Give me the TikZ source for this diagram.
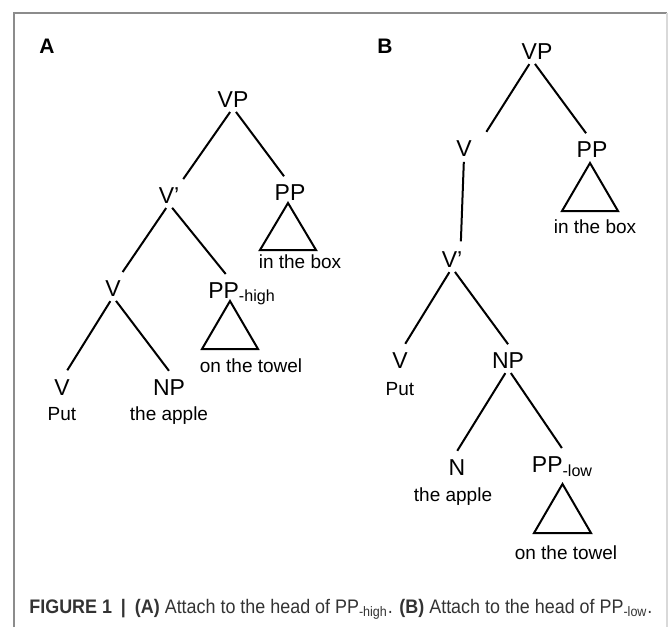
\documentclass[tikz,border=0pt]{standalone}
\usepackage{fontspec}
\setmainfont{Liberation Sans}
\usepackage{graphicx}
\usepackage{tikz}
\usetikzlibrary{positioning, calc}

\begin{document}
\begin{tikzpicture}[x=0.5pt, y=-0.5pt,
    cat/.style={font=\fontsize{11.5}{13}\selectfont, inner sep=0pt, anchor=base},
    wrd/.style={font=\fontsize{9.5}{11}\selectfont, inner sep=0pt, anchor=base},
    panel/.style={font=\bfseries\fontsize{10.5}{12}\selectfont, inner sep=0pt},
    br/.style={line width=1pt, shorten <=2.5pt, shorten >=5pt},
    tri/.style={line width=1pt, line join=miter}]

    \useasboundingbox (0,0) rectangle (668,627);

    % frame
    \draw[black!45, line width=0.8pt] (14,627) -- (14,13) -- (667,13);
    \draw[black!15, line width=0.8pt] (667,13) -- (667,627);

    \node[panel] (labA) at (47,46) {A};
    \node[panel] (labB) at (385,46) {B};

    % tree A (high attachment)
    \node[cat] (vpA)   at (233,107.5) {VP};
    \node[cat] (vbarA) at (169,203.5) {V'};
    \node[cat] (ppA)   at (290,200.5) {PP};
    \node[cat] (vA)    at (113,296.5) {V};
    \node[cat] (pphA)  at (242,298) {PP\textsubscript{-high}};
    \node[cat] (vlowA) at (62,395) {V};
    \node[cat] (npA)   at (169,395) {NP};
    \node[wrd] (boxA)   at (300,268) {in the box};
    \node[wrd] (towelA) at (251,372) {on the towel};
    \node[wrd] (putA)   at (62,420) {Put};
    \node[wrd] (appleA) at (169,420) {the apple};

    \draw[br] (vpA.south) -- ($(vbarA.north)+(8.5,0)$);
    \draw[br] (vpA.south) -- (ppA.north);
    \draw[br] (vbarA.south) -- ($(vA.north)+(4,0)$);
    \draw[br] (vbarA.south) -- ($(pphA.north)+(-10,0)$);
    \draw[br] (vA.south) -- (vlowA.north);
    \draw[br] (vA.south) -- ($(npA.north)+(6,0)$);
    \draw[tri] ($(ppA.base)+(-2,2.5)$) -- ++(28,47) -- ++(-56,0) -- cycle;
    \draw[tri] ($(pphA.base)+(-12,3)$) -- ++(28,48) -- ++(-56,0) -- cycle;

    % tree B (low attachment)
    \node[cat] (vpB)   at (537,59.5) {VP};
    \node[cat] (vB)    at (464,156.5) {V};
    \node[cat] (ppB)   at (592,157.5) {PP};
    \node[cat] (vbarB) at (452,267.5) {V'};
    \node[cat] (vlowB) at (400,368.5) {V};
    \node[cat] (npB)   at (508,368.5) {NP};
    \node[cat] (nB)    at (457,475.5) {N};
    \node[cat] (pplB)  at (562.5,472.5) {PP\textsubscript{-low}};
    \node[wrd] (boxB)   at (595,233) {in the box};
    \node[wrd] (putB)   at (400,395) {Put};
    \node[wrd] (appleB) at (453,501) {the apple};
    \node[wrd] (towelB) at (566,559) {on the towel};

    \draw[br] ($(vpB.south)+(-5,0)$) -- ($(vB.north)+(17,0)$);
    \draw[br] ($(vpB.south)+(-5,0)$) -- (ppB.north);
    \draw[br] (vB.south) -- ($(vbarB.north)+(8.5,0)$);
    \draw[br] (vbarB.south) -- (vlowB.north);
    \draw[br] (vbarB.south) -- ($(npB.north)+(6,0)$);
    \draw[br] (npB.south) -- ($(nB.north)+(-5,0)$);
    \draw[br] (npB.south) -- ($(pplB.north)+(5,0)$);
    \draw[tri] ($(ppB.base)+(-2,5.5)$) -- ++(28,48) -- ++(-56,0) -- cycle;
    \draw[tri] ($(pplB.base)+(0,11.5)$) -- ++(28.5,49) -- ++(-57,0) -- cycle;

    % caption
    \node[anchor=base west, inner sep=0pt, text=black!80] (cap) at (29,613)
      {\resizebox{311.5pt}{\height}{\fontsize{9.8}{11}\selectfont
       \textbf{FIGURE 1\enspace|\enspace(A)} Attach to the head of PP\textsubscript{-high}.
       \textbf{(B)} Attach to the head of PP\textsubscript{-low}.}};
\end{tikzpicture}
\end{document}
